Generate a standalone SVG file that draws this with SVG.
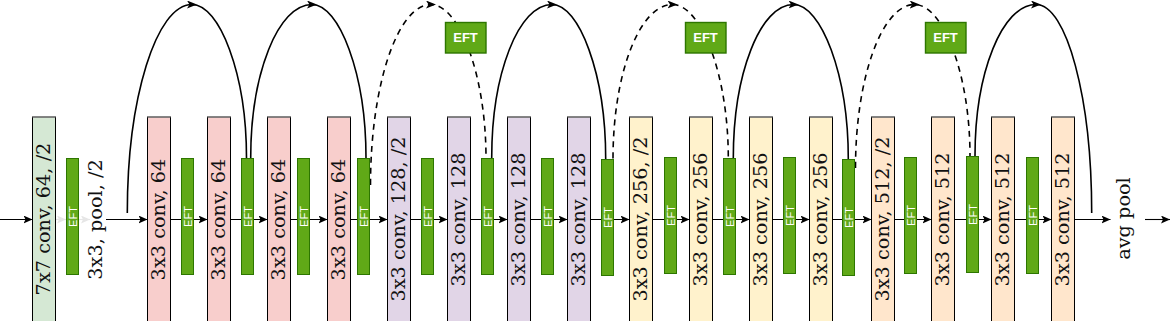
<svg xmlns="http://www.w3.org/2000/svg" width="1170" height="321" viewBox="0 0 1170 321">
<style>
.box{stroke:#000;stroke-width:1}
.top{stroke:#8a8a8a;stroke-width:1.2}
.g{fill:#d5e8d4}.p{fill:#f8cecc}.v{fill:#e1d5e7}.y{fill:#fff2cc}.o{fill:#ffe6cc}
.lbl{font-family:"DejaVu Serif",serif;font-size:19.3px;fill:#111;text-anchor:middle}
.bar{fill:#60a917;stroke:#2d7600;stroke-width:1}
.bt{font-family:"Liberation Sans",Arial,sans-serif;font-size:11px;fill:#fff;text-anchor:middle}
.eft{fill:#60a917;stroke:#2d7600;stroke-width:1.4}
.et{font-family:"Liberation Sans",Arial,sans-serif;font-size:13px;font-weight:bold;fill:#fff;text-anchor:middle}
.main{fill:none;stroke:#000;stroke-width:1.1;marker-end:url(#arr)}
.faint{fill:none;stroke:#e6e6e6;stroke-width:1.1;marker-end:url(#arrf)}
.arc{fill:none;stroke:#000;stroke-width:1.6;marker-mid:url(#arrm)}
.dash{stroke-dasharray:6 5}
.line{fill:none;stroke:#000;stroke-width:1.6}
</style>
<defs>
<marker id="arr" markerUnits="userSpaceOnUse" markerWidth="9" markerHeight="8" viewBox="0 0 9 8" refX="9" refY="4" orient="auto"><path d="M0,0 L9,4 L0,8 L2,4 Z" fill="#000"/></marker>
<marker id="arrf" markerUnits="userSpaceOnUse" markerWidth="9" markerHeight="8" viewBox="0 0 9 8" refX="9" refY="4" orient="auto"><path d="M0,0 L9,4 L0,8 L2,4 Z" fill="#e6e6e6"/></marker>
<marker id="arrm" markerUnits="userSpaceOnUse" markerWidth="10" markerHeight="8" viewBox="0 0 10 8" refX="5" refY="4" orient="auto"><path d="M0,0 L10,4 L0,8 L2.5,4 Z" fill="#000"/></marker>
</defs>
<rect width="1170" height="321" fill="#fff"/>
<g id="connectors">
<path class="main" d="M0,219.5 H32.5"/>
<path class="faint" d="M55.5,219.5 H66"/>
<path class="faint" d="M78,219.5 H90"/>
<path class="main" d="M106,219.5 H147.5"/>
<path class="main" d="M170.5,219.5 H207.5"/>
<path class="main" d="M230.5,219.5 H267.5"/>
<path class="main" d="M290.5,219.5 H327.5"/>
<path class="main" d="M350.5,219.5 H387.5"/>
<path class="main" d="M410.5,219.5 H447.5"/>
<path class="main" d="M470.5,219.5 H507.5"/>
<path class="main" d="M530.5,219.5 H567.5"/>
<path class="main" d="M590.5,219.5 H629.5"/>
<path class="main" d="M652.5,219.5 H689.5"/>
<path class="main" d="M712.5,219.5 H749.5"/>
<path class="main" d="M772.5,219.5 H809.5"/>
<path class="main" d="M832.5,219.5 H871.5"/>
<path class="main" d="M894.5,219.5 H931.5"/>
<path class="main" d="M954.5,219.5 H991.5"/>
<path class="main" d="M1014.5,219.5 H1051.5"/>
<path class="main" d="M1074.5,219.5 H1110.5"/>
<path class="main" d="M1145,219.5 H1170"/>
<path class="arc" d="M127.3,213 C127.3,97.9 156.3,4.5 192,4.5 C219.3,4.5 246.5,73.3 246.5,158"/>
<path class="arc" d="M250.7,158 C250.7,73.3 278.2,4.5 312,4.5 C339,4.5 366,73.3 366,158"/>
<path class="arc dash" d="M370.5,185 C370.5,85.4 397.6,4.5 431,4.5 C458.5,4.5 486,73.3 486,158"/>
<path class="arc" d="M491.7,158 C491.7,73.3 518.7,4.5 552,4.5 C578.9,4.5 605.7,73.3 605.7,159"/>
<path class="arc dash" d="M613,158.5 C613,73.5 639.7,4.5 672.5,4.5 C700.4,4.5 728.3,73 728.3,158"/>
<path class="arc" d="M733.3,158.3 C733.3,73.5 760.3,4.5 793.5,4.5 C820.9,4.5 848.3,73.8 848.3,159.3"/>
<path class="arc dash" d="M855.5,168 C855.5,77.7 882,4.5 914.7,4.5 C942.4,4.5 970,72.4 970,156"/>
<path class="arc" d="M975,156 C975,72.4 1002.3,4.5 1036,4.5 C1066.7,4.5 1091.7,97.9 1091.7,213"/>
</g>
<g id="conv1"><rect class="box g" x="32.5" y="117" width="23" height="215"/><line class="top" x1="32.5" y1="117" x2="55.5" y2="117"/><text class="lbl" transform="translate(43.2,219) rotate(-90)" y="7">7x7 conv, 64, /2</text></g>
<g id="pool"><text class="lbl" transform="translate(94.5,219.5) rotate(-90)" y="7">3x3, pool, /2</text></g>
<g id="conv2"><rect class="box p" x="147.5" y="117" width="23" height="215"/><line class="top" x1="147.5" y1="117" x2="170.5" y2="117"/><text class="lbl" transform="translate(158.2,219.5) rotate(-90)" y="7">3x3 conv, 64</text></g>
<g id="conv3"><rect class="box p" x="207.5" y="117" width="23" height="215"/><line class="top" x1="207.5" y1="117" x2="230.5" y2="117"/><text class="lbl" transform="translate(218.2,219.5) rotate(-90)" y="7">3x3 conv, 64</text></g>
<g id="conv4"><rect class="box p" x="267.5" y="117" width="23" height="215"/><line class="top" x1="267.5" y1="117" x2="290.5" y2="117"/><text class="lbl" transform="translate(278.2,219.5) rotate(-90)" y="7">3x3 conv, 64</text></g>
<g id="conv5"><rect class="box p" x="327.5" y="117" width="23" height="215"/><line class="top" x1="327.5" y1="117" x2="350.5" y2="117"/><text class="lbl" transform="translate(338.2,219.5) rotate(-90)" y="7">3x3 conv, 64</text></g>
<g id="conv6"><rect class="box v" x="387.5" y="117" width="23" height="215"/><line class="top" x1="387.5" y1="117" x2="410.5" y2="117"/><text class="lbl" transform="translate(398.2,219) rotate(-90)" y="7">3x3 conv, 128, /2</text></g>
<g id="conv7"><rect class="box v" x="447.5" y="117" width="23" height="215"/><line class="top" x1="447.5" y1="117" x2="470.5" y2="117"/><text class="lbl" transform="translate(458.2,219.5) rotate(-90)" y="7">3x3 conv, 128</text></g>
<g id="conv8"><rect class="box v" x="507.5" y="117" width="23" height="215"/><line class="top" x1="507.5" y1="117" x2="530.5" y2="117"/><text class="lbl" transform="translate(518.2,219.5) rotate(-90)" y="7">3x3 conv, 128</text></g>
<g id="conv9"><rect class="box v" x="567.5" y="117" width="23" height="215"/><line class="top" x1="567.5" y1="117" x2="590.5" y2="117"/><text class="lbl" transform="translate(578.2,219.5) rotate(-90)" y="7">3x3 conv, 128</text></g>
<g id="conv10"><rect class="box y" x="629.5" y="117" width="23" height="215"/><line class="top" x1="629.5" y1="117" x2="652.5" y2="117"/><text class="lbl" transform="translate(640.2,219) rotate(-90)" y="7">3x3 conv, 256, /2</text></g>
<g id="conv11"><rect class="box y" x="689.5" y="117" width="23" height="215"/><line class="top" x1="689.5" y1="117" x2="712.5" y2="117"/><text class="lbl" transform="translate(700.2,219.5) rotate(-90)" y="7">3x3 conv, 256</text></g>
<g id="conv12"><rect class="box y" x="749.5" y="117" width="23" height="215"/><line class="top" x1="749.5" y1="117" x2="772.5" y2="117"/><text class="lbl" transform="translate(760.2,219.5) rotate(-90)" y="7">3x3 conv, 256</text></g>
<g id="conv13"><rect class="box y" x="809.5" y="117" width="23" height="215"/><line class="top" x1="809.5" y1="117" x2="832.5" y2="117"/><text class="lbl" transform="translate(820.2,219.5) rotate(-90)" y="7">3x3 conv, 256</text></g>
<g id="conv14"><rect class="box o" x="871.5" y="117" width="23" height="215"/><line class="top" x1="871.5" y1="117" x2="894.5" y2="117"/><text class="lbl" transform="translate(882.2,219) rotate(-90)" y="7">3x3 conv, 512, /2</text></g>
<g id="conv15"><rect class="box o" x="931.5" y="117" width="23" height="215"/><line class="top" x1="931.5" y1="117" x2="954.5" y2="117"/><text class="lbl" transform="translate(942.2,219.5) rotate(-90)" y="7">3x3 conv, 512</text></g>
<g id="conv16"><rect class="box o" x="991.5" y="117" width="23" height="215"/><line class="top" x1="991.5" y1="117" x2="1014.5" y2="117"/><text class="lbl" transform="translate(1002.2,219.5) rotate(-90)" y="7">3x3 conv, 512</text></g>
<g id="conv17"><rect class="box o" x="1051.5" y="117" width="23" height="215"/><line class="top" x1="1051.5" y1="117" x2="1074.5" y2="117"/><text class="lbl" transform="translate(1062.2,219.5) rotate(-90)" y="7">3x3 conv, 512</text></g>
<g id="avgpool"><text class="lbl" transform="translate(1123,218.5) rotate(-90)" y="7">avg pool</text></g>
<g id="eft1"><rect class="bar" x="66.5" y="158.5" width="12" height="116"/><text class="bt" transform="translate(72.8,216.5) rotate(-90)" y="4">EFT</text></g>
<g id="eft2"><rect class="bar" x="181.5" y="158.5" width="12" height="116"/><text class="bt" transform="translate(187.8,216.5) rotate(-90)" y="4">EFT</text></g>
<g id="eft3"><rect class="bar" x="241.5" y="158.5" width="12" height="116"/><text class="bt" transform="translate(247.8,216.5) rotate(-90)" y="4">EFT</text></g>
<g id="eft4"><rect class="bar" x="297.5" y="158.5" width="12" height="116"/><text class="bt" transform="translate(303.8,216.5) rotate(-90)" y="4">EFT</text></g>
<g id="eft5"><rect class="bar" x="357.5" y="158.5" width="12" height="116"/><text class="bt" transform="translate(363.8,216.5) rotate(-90)" y="4">EFT</text></g>
<g id="eft6"><rect class="bar" x="421.5" y="158.5" width="12" height="116"/><text class="bt" transform="translate(427.8,216.5) rotate(-90)" y="4">EFT</text></g>
<g id="eft7"><rect class="bar" x="481.5" y="158.5" width="12" height="116"/><text class="bt" transform="translate(487.8,216.5) rotate(-90)" y="4">EFT</text></g>
<g id="eft8"><rect class="bar" x="541.5" y="158.5" width="12" height="116"/><text class="bt" transform="translate(547.8,216.5) rotate(-90)" y="4">EFT</text></g>
<g id="eft9"><rect class="bar" x="601.5" y="159.5" width="12" height="116"/><text class="bt" transform="translate(607.8,217.5) rotate(-90)" y="4">EFT</text></g>
<g id="eft10"><rect class="bar" x="664.5" y="157.5" width="12" height="116"/><text class="bt" transform="translate(670.8,215.5) rotate(-90)" y="4">EFT</text></g>
<g id="eft11"><rect class="bar" x="723.5" y="158.5" width="12" height="116"/><text class="bt" transform="translate(729.8,216.5) rotate(-90)" y="4">EFT</text></g>
<g id="eft12"><rect class="bar" x="783.5" y="157.5" width="12" height="116"/><text class="bt" transform="translate(789.8,215.5) rotate(-90)" y="4">EFT</text></g>
<g id="eft13"><rect class="bar" x="842.5" y="159.5" width="12" height="116"/><text class="bt" transform="translate(848.8,217.5) rotate(-90)" y="4">EFT</text></g>
<g id="eft14"><rect class="bar" x="904.5" y="157.5" width="12" height="116"/><text class="bt" transform="translate(910.8,215.5) rotate(-90)" y="4">EFT</text></g>
<g id="eft15"><rect class="bar" x="966.5" y="156.5" width="12" height="116"/><text class="bt" transform="translate(972.8,214.5) rotate(-90)" y="4">EFT</text></g>
<g id="eft16"><rect class="bar" x="1026.5" y="157.5" width="12" height="116"/><text class="bt" transform="translate(1032.8,215.5) rotate(-90)" y="4">EFT</text></g>
<g id="eftTop1"><rect class="eft" x="445.5" y="22.5" width="40.5" height="30.5"/><text class="et" x="465.5" y="42">EFT</text></g>
<g id="eftTop2"><rect class="eft" x="685.5" y="22.5" width="40.5" height="30.5"/><text class="et" x="705.5" y="42">EFT</text></g>
<g id="eftTop3"><rect class="eft" x="925.5" y="22.5" width="40.5" height="30.5"/><text class="et" x="945.5" y="42">EFT</text></g>
</svg>
